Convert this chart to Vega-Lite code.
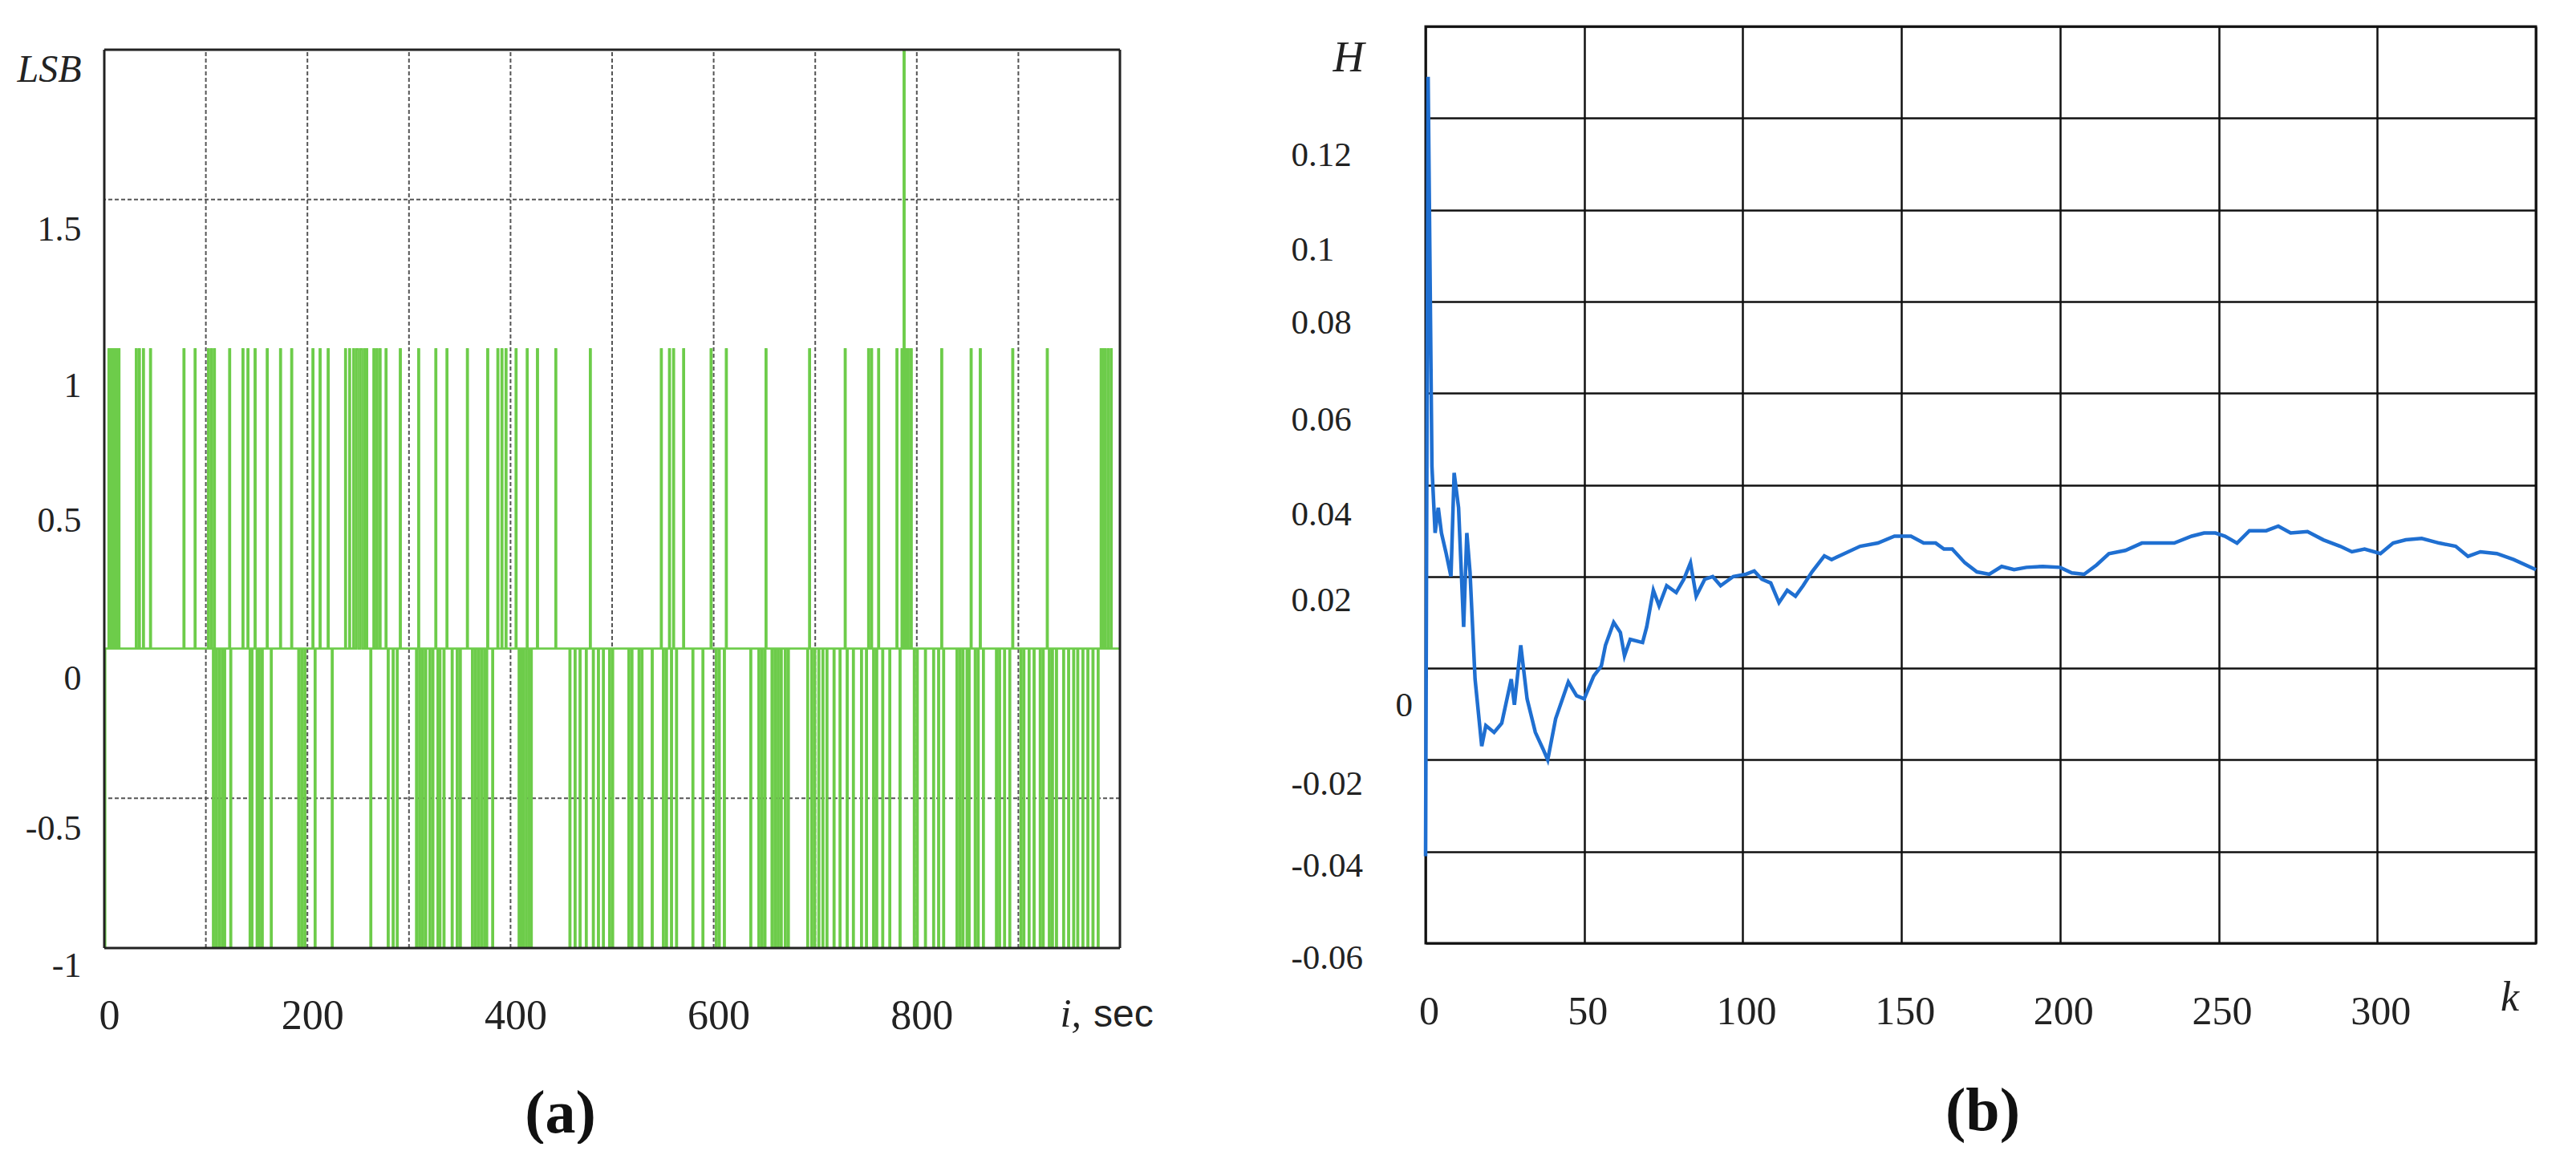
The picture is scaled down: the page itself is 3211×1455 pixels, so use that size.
{
  "$schema": "https://vega.github.io/schema/vega-lite/v6.json",
  "background": "white",
  "padding": {"left": 20, "top": 31, "right": 0, "bottom": 0},
  "bounds": "flush",
  "spacing": 381,
  "config": {
    "view": {"stroke": null},
    "axis": {
      "ticks": false,
      "tickSize": 0,
      "domain": false,
      "grid": false,
      "labelFont": "Liberation Serif",
      "labelColor": "#222",
      "labelFlush": false,
      "labelOverlap": false,
      "labelBound": false,
      "titleFont": "Liberation Serif",
      "titleColor": "#111"
    }
  },
  "datasets": {
    "lsb": [
      {"t":0,"v":-1},{"t":1,"v":0},
      {"t":4,"v":1},{"t":5,"v":0},{"t":6,"v":1},{"t":7,"v":0},{"t":8,"v":1},{"t":9,"v":0},{"t":10,"v":1},{"t":11,"v":0},{"t":12,"v":1},{"t":13,"v":0},{"t":14,"v":1},{"t":15,"v":0},
      {"t":31,"v":1},{"t":32,"v":0},{"t":34,"v":1},{"t":35,"v":0},{"t":38,"v":1},{"t":39,"v":0},{"t":45,"v":1},{"t":46,"v":0},
      {"t":78,"v":1},{"t":79,"v":0},{"t":89,"v":1},{"t":90,"v":0},{"t":102,"v":1},{"t":103,"v":0},{"t":105,"v":1},{"t":106,"v":0},
      {"t":107,"v":-1},{"t":108,"v":1},{"t":109,"v":0},{"t":110,"v":-1},{"t":111,"v":0},{"t":113,"v":-1},{"t":114,"v":0},
      {"t":116,"v":-1},{"t":117,"v":0},{"t":118,"v":-1},{"t":119,"v":0},{"t":123,"v":1},{"t":124,"v":-1},{"t":125,"v":0},
      {"t":136,"v":1},{"t":137,"v":0},{"t":141,"v":1},{"t":142,"v":0},{"t":143,"v":-1},{"t":144,"v":0},{"t":145,"v":-1},{"t":146,"v":0},
      {"t":148,"v":1},{"t":149,"v":0},{"t":150,"v":-1},{"t":151,"v":0},{"t":152,"v":-1},{"t":153,"v":0},{"t":155,"v":-1},{"t":156,"v":0},
      {"t":160,"v":1},{"t":161,"v":0},{"t":164,"v":-1},{"t":165,"v":0},{"t":173,"v":1},{"t":174,"v":0},{"t":184,"v":1},{"t":185,"v":0},
      {"t":191,"v":-1},{"t":192,"v":0},{"t":194,"v":-1},{"t":195,"v":0},{"t":197,"v":-1},{"t":198,"v":0},
      {"t":205,"v":1},{"t":206,"v":0},{"t":207,"v":-1},{"t":208,"v":0},{"t":212,"v":1},{"t":213,"v":0},{"t":220,"v":1},{"t":221,"v":0},
      {"t":224,"v":-1},{"t":225,"v":0},{"t":237,"v":1},{"t":238,"v":0},{"t":241,"v":1},{"t":242,"v":0},{"t":245,"v":1},{"t":246,"v":0},
      {"t":248,"v":1},{"t":249,"v":1},{"t":250,"v":0},{"t":252,"v":1},{"t":253,"v":1},{"t":254,"v":0},{"t":256,"v":1},{"t":257,"v":0},
      {"t":258,"v":1},{"t":259,"v":0},{"t":262,"v":-1},{"t":263,"v":0},{"t":265,"v":1},{"t":266,"v":0},{"t":268,"v":1},{"t":269,"v":0},
      {"t":271,"v":1},{"t":272,"v":0},{"t":277,"v":1},{"t":278,"v":0},{"t":279,"v":-1},{"t":280,"v":0},{"t":284,"v":-1},{"t":285,"v":0},
      {"t":288,"v":-1},{"t":289,"v":0},{"t":291,"v":1},{"t":292,"v":0},{"t":307,"v":-1},{"t":308,"v":0},{"t":309,"v":1},{"t":310,"v":-1},{"t":311,"v":0},
      {"t":313,"v":-1},{"t":314,"v":0},{"t":316,"v":-1},{"t":317,"v":0},{"t":320,"v":-1},{"t":321,"v":0},{"t":323,"v":-1},{"t":324,"v":0},
      {"t":326,"v":1},{"t":327,"v":0},{"t":328,"v":-1},{"t":329,"v":0},{"t":330,"v":-1},{"t":331,"v":0},{"t":334,"v":-1},{"t":335,"v":0},
      {"t":337,"v":1},{"t":338,"v":0},{"t":342,"v":-1},{"t":343,"v":0},{"t":347,"v":-1},{"t":348,"v":0},{"t":350,"v":-1},{"t":351,"v":0},
      {"t":357,"v":1},{"t":358,"v":0},{"t":362,"v":-1},{"t":363,"v":0},{"t":365,"v":-1},{"t":366,"v":0},{"t":368,"v":-1},{"t":369,"v":0},
      {"t":371,"v":-1},{"t":372,"v":0},{"t":374,"v":-1},{"t":375,"v":0},{"t":376,"v":-1},{"t":377,"v":1},{"t":378,"v":0},
      {"t":382,"v":-1},{"t":383,"v":0},{"t":387,"v":1},{"t":388,"v":0},{"t":391,"v":1},{"t":392,"v":0},{"t":395,"v":1},{"t":396,"v":0},
      {"t":405,"v":1},{"t":406,"v":0},{"t":408,"v":-1},{"t":409,"v":0},{"t":410,"v":-1},{"t":411,"v":0},{"t":412,"v":-1},{"t":413,"v":0},
      {"t":415,"v":-1},{"t":416,"v":1},{"t":417,"v":0},{"t":418,"v":-1},{"t":419,"v":0},{"t":420,"v":-1},{"t":421,"v":0},
      {"t":426,"v":1},{"t":427,"v":0},{"t":444,"v":1},{"t":445,"v":0},{"t":458,"v":-1},{"t":459,"v":0},{"t":463,"v":-1},{"t":464,"v":0},
      {"t":468,"v":-1},{"t":469,"v":0},{"t":474,"v":-1},{"t":475,"v":0},{"t":478,"v":1},{"t":479,"v":0},{"t":481,"v":-1},{"t":482,"v":0},
      {"t":486,"v":-1},{"t":487,"v":0},{"t":491,"v":-1},{"t":492,"v":0},{"t":497,"v":-1},{"t":498,"v":0},{"t":500,"v":-1},{"t":501,"v":0},
      {"t":516,"v":-1},{"t":517,"v":0},{"t":519,"v":-1},{"t":520,"v":0},{"t":526,"v":-1},{"t":527,"v":0},{"t":529,"v":-1},{"t":530,"v":0},
      {"t":539,"v":-1},{"t":540,"v":0},{"t":548,"v":1},{"t":549,"v":0},{"t":550,"v":-1},{"t":551,"v":0},{"t":553,"v":-1},{"t":554,"v":0},
      {"t":556,"v":1},{"t":557,"v":0},{"t":558,"v":-1},{"t":559,"v":0},{"t":560,"v":1},{"t":561,"v":0},{"t":563,"v":-1},{"t":564,"v":0},
      {"t":570,"v":1},{"t":571,"v":0},{"t":579,"v":-1},{"t":580,"v":0},{"t":589,"v":-1},{"t":590,"v":0},{"t":597,"v":1},{"t":598,"v":0},
      {"t":602,"v":-1},{"t":603,"v":0},{"t":605,"v":-1},{"t":606,"v":0},{"t":610,"v":-1},{"t":611,"v":0},{"t":612,"v":1},{"t":613,"v":0},
      {"t":636,"v":-1},{"t":637,"v":0},{"t":644,"v":-1},{"t":645,"v":0},{"t":647,"v":-1},{"t":648,"v":0},{"t":650,"v":-1},{"t":651,"v":1},{"t":652,"v":0},
      {"t":657,"v":-1},{"t":658,"v":0},{"t":660,"v":-1},{"t":661,"v":0},{"t":663,"v":-1},{"t":664,"v":0},{"t":666,"v":-1},{"t":667,"v":0},
      {"t":670,"v":-1},{"t":671,"v":0},{"t":673,"v":-1},{"t":674,"v":0},{"t":692,"v":-1},{"t":693,"v":0},{"t":694,"v":1},{"t":695,"v":0},
      {"t":696,"v":-1},{"t":697,"v":0},{"t":699,"v":-1},{"t":700,"v":0},{"t":703,"v":-1},{"t":704,"v":0},{"t":707,"v":-1},{"t":708,"v":0},
      {"t":711,"v":-1},{"t":712,"v":0},{"t":718,"v":-1},{"t":719,"v":0},{"t":724,"v":-1},{"t":725,"v":0},{"t":729,"v":1},{"t":730,"v":0},
      {"t":731,"v":-1},{"t":732,"v":0},{"t":737,"v":-1},{"t":738,"v":0},{"t":745,"v":-1},{"t":746,"v":0},{"t":750,"v":-1},{"t":751,"v":0},
      {"t":752,"v":1},{"t":753,"v":0},{"t":755,"v":1},{"t":756,"v":0},{"t":757,"v":-1},{"t":758,"v":0},{"t":760,"v":-1},{"t":761,"v":0},
      {"t":762,"v":1},{"t":763,"v":0},{"t":766,"v":-1},{"t":767,"v":0},{"t":773,"v":-1},{"t":774,"v":0},{"t":780,"v":1},{"t":781,"v":0},
      {"t":783,"v":-1},{"t":784,"v":0},{"t":785,"v":1},{"t":786,"v":0},{"t":787,"v":2},{"t":788,"v":0},{"t":789,"v":1},{"t":790,"v":0},
      {"t":791,"v":1},{"t":792,"v":0},{"t":794,"v":1},{"t":795,"v":0},{"t":797,"v":-1},{"t":798,"v":0},{"t":800,"v":-1},{"t":801,"v":0},
      {"t":808,"v":-1},{"t":809,"v":0},{"t":816,"v":-1},{"t":817,"v":0},{"t":821,"v":-1},{"t":822,"v":0},{"t":824,"v":1},{"t":825,"v":0},
      {"t":826,"v":-1},{"t":827,"v":0},{"t":839,"v":-1},{"t":840,"v":0},{"t":842,"v":-1},{"t":843,"v":0},{"t":845,"v":-1},{"t":846,"v":0},
      {"t":849,"v":-1},{"t":850,"v":0},{"t":851,"v":-1},{"t":852,"v":0},{"t":853,"v":1},{"t":854,"v":0},{"t":857,"v":-1},{"t":858,"v":0},
      {"t":860,"v":-1},{"t":861,"v":0},{"t":862,"v":1},{"t":863,"v":0},{"t":865,"v":-1},{"t":866,"v":0},{"t":878,"v":-1},{"t":879,"v":0},
      {"t":881,"v":-1},{"t":882,"v":0},{"t":886,"v":-1},{"t":887,"v":0},{"t":891,"v":-1},{"t":892,"v":0},{"t":894,"v":1},{"t":895,"v":0},
      {"t":902,"v":-1},{"t":903,"v":0},{"t":905,"v":-1},{"t":906,"v":0},{"t":910,"v":-1},{"t":911,"v":0},{"t":915,"v":-1},{"t":916,"v":0},
      {"t":921,"v":-1},{"t":922,"v":0},{"t":924,"v":-1},{"t":925,"v":0},{"t":928,"v":1},{"t":929,"v":0},{"t":930,"v":-1},{"t":931,"v":0},
      {"t":933,"v":-1},{"t":934,"v":0},{"t":937,"v":-1},{"t":938,"v":0},{"t":944,"v":-1},{"t":945,"v":0},{"t":949,"v":-1},{"t":950,"v":0},
      {"t":954,"v":-1},{"t":955,"v":0},{"t":958,"v":-1},{"t":959,"v":0},{"t":963,"v":-1},{"t":964,"v":0},{"t":968,"v":-1},{"t":969,"v":0},
      {"t":973,"v":-1},{"t":974,"v":0},{"t":978,"v":-1},{"t":979,"v":0},{"t":981,"v":1},{"t":982,"v":0},{"t":983,"v":1},{"t":984,"v":0},
      {"t":985,"v":1},{"t":986,"v":0},{"t":988,"v":1},{"t":989,"v":0},{"t":991,"v":1},{"t":992,"v":0},{"t":1000,"v":0}
    ],
    "h": [
      {"k":0,"h":-0.041},{"k":0.8,"h":0.129},{"k":2,"h":0.044},{"k":3,"h":0.0295},{"k":4,"h":0.035},{"k":5,"h":0.0295},
      {"k":6.5,"h":0.025},{"k":8,"h":0.02},{"k":9,"h":0.0426},{"k":10.4,"h":0.035},{"k":12,"h":0.009},{"k":13,"h":0.0295},
      {"k":14,"h":0.021},{"k":15.6,"h":-0.0024},{"k":17.7,"h":-0.017},{"k":19,"h":-0.0125},{"k":21.6,"h":-0.014},{"k":24,"h":-0.012},
      {"k":27,"h":-0.0024},{"k":28,"h":-0.008},{"k":30,"h":0.005},{"k":32,"h":-0.0067},{"k":34.6,"h":-0.014},{"k":37,"h":-0.0176},
      {"k":38.5,"h":-0.02},{"k":41,"h":-0.011},{"k":45,"h":-0.003},{"k":47.6,"h":-0.006},{"k":50,"h":-0.0067},{"k":53,"h":-0.0017},
      {"k":55.4,"h":0.0005},{"k":56.7,"h":0.005},{"k":59.3,"h":0.01},{"k":61.4,"h":0.0078},{"k":62.7,"h":0.0027},{"k":64.5,"h":0.0063},
      {"k":68.4,"h":0.0056},{"k":69.7,"h":0.009},{"k":71.8,"h":0.017},{"k":73.6,"h":0.0136},{"k":76,"h":0.018},{"k":79,"h":0.0165},
      {"k":81.4,"h":0.0194},{"k":83.5,"h":0.023},{"k":85.3,"h":0.0157},{"k":88,"h":0.0194},{"k":90.5,"h":0.02},{"k":93,"h":0.018},
      {"k":97,"h":0.02},{"k":101,"h":0.0205},{"k":103.6,"h":0.0212},{"k":106,"h":0.0194},{"k":108.8,"h":0.0186},{"k":111.4,"h":0.0143},
      {"k":114,"h":0.017},{"k":116.6,"h":0.0157},{"k":119,"h":0.018},{"k":121.8,"h":0.021},{"k":125.7,"h":0.0245},{"k":128,"h":0.0237},
      {"k":132,"h":0.025},{"k":137,"h":0.0266},{"k":142.6,"h":0.0273},{"k":147.8,"h":0.0288},{"k":153,"h":0.0288},{"k":157,"h":0.0273},
      {"k":160.8,"h":0.0273},{"k":163.4,"h":0.026},{"k":166,"h":0.026},{"k":170,"h":0.023},{"k":173.8,"h":0.021},{"k":177.7,"h":0.0205},
      {"k":181.6,"h":0.0222},{"k":185.5,"h":0.0215},{"k":189.4,"h":0.022},{"k":194.6,"h":0.0222},{"k":200,"h":0.022},{"k":203.7,"h":0.0208},
      {"k":207.6,"h":0.0205},{"k":211.5,"h":0.0225},{"k":215.4,"h":0.025},{"k":220.6,"h":0.0257},{"k":225.8,"h":0.0273},{"k":231,"h":0.0273},
      {"k":236,"h":0.0273},{"k":241.5,"h":0.0288},{"k":245.4,"h":0.0295},{"k":249,"h":0.0295},{"k":252,"h":0.0288},{"k":255.8,"h":0.0273},
      {"k":259.7,"h":0.03},{"k":265,"h":0.03},{"k":268.8,"h":0.031},{"k":272.7,"h":0.0295},{"k":278,"h":0.0298},{"k":283,"h":0.028},
      {"k":288.3,"h":0.0266},{"k":292,"h":0.0254},{"k":296,"h":0.026},{"k":301,"h":0.025},{"k":305,"h":0.0273},{"k":309,"h":0.028},
      {"k":314,"h":0.0283},{"k":319.5,"h":0.0273},{"k":324.7,"h":0.0266},{"k":328.6,"h":0.0244},{"k":332.5,"h":0.0254},{"k":337.7,"h":0.025},
      {"k":343,"h":0.0237},{"k":350,"h":0.0215}
    ],
    "vgrid": [{"t":100},{"t":200},{"t":300},{"t":400},{"t":500},{"t":600},{"t":700},{"t":800},{"t":900}],
    "hgrid": [{"v":1.5},{"v":-0.5}],
    "frameV": [{"t":0},{"t":1000}],
    "frameH": [{"v":2},{"v":-1}]
  },
  "hconcat": [
    {
      "width": 1266,
      "height": 1149,
      "layer": [
        {
          "data": {"name": "lsb"},
          "mark": {"type": "line", "interpolate": "step-after", "color": "#6dcc4a", "strokeWidth": 2.2},
          "encoding": {
            "x": {
              "field": "t",
              "type": "quantitative",
              "scale": {"domain": [0, 1000], "nice": false, "zero": false},
              "axis": {
                "values": [0, 200, 400, 600, 800],
                "labelFontSize": 52,
                "labelBaseline": "alphabetic",
                "labelPadding": 100,
                "labelOffset": 6,
                "title": "(a)",
                "titleFontSize": 76,
                "titleFontWeight": "bold",
                "titleAlign": "center",
                "titleBaseline": "alphabetic",
                "titleX": 568,
                "titleY": 229
              }
            },
            "y": {
              "field": "v",
              "type": "quantitative",
              "scale": {"domain": [-1, 2.0777], "nice": false, "zero": false},
              "axis": {
                "values": [-1, -0.5, 0, 0.5, 1, 1.5, 2],
                "labelExpr": "datum.value == 2 ? 'LSB' : '' + datum.value",
                "labelAlign": "right",
                "labelBaseline": "middle",
                "labelPadding": 29,
                "labelFontSize": {"condition": {"test": "datum.value == 2", "value": 48}, "value": 44},
                "labelFontStyle": {"condition": {"test": "datum.value == 2", "value": "italic"}, "value": "normal"},
                "labelOffset": {
                  "condition": [
                    {"test": "datum.value == 2", "value": 25},
                    {"test": "datum.value == 1", "value": 46},
                    {"test": "datum.value == 0.5", "value": 27},
                    {"test": "datum.value == -1", "value": 22}
                  ],
                  "value": 38
                },
                "title": null
              }
            }
          }
        },
        {
          "data": {"name": "vgrid"},
          "mark": {"type": "rule", "color": "#555", "strokeWidth": 2, "strokeDash": [5, 3]},
          "encoding": {
            "x": {"field": "t", "type": "quantitative", "scale": {"domain": [0, 1000], "nice": false, "zero": false}},
            "y": {"datum": -1, "type": "quantitative", "scale": {"domain": [-1, 2.0777], "nice": false, "zero": false}},
            "y2": {"datum": 2}
          }
        },
        {
          "data": {"name": "hgrid"},
          "mark": {"type": "rule", "color": "#555", "strokeWidth": 2, "strokeDash": [5, 3]},
          "encoding": {
            "y": {"field": "v", "type": "quantitative", "scale": {"domain": [-1, 2.0777], "nice": false, "zero": false}}
          }
        },
        {
          "data": {"name": "lsb"},
          "mark": {"type": "line", "interpolate": "step-after", "color": "#6dcc4a", "strokeWidth": 2.2},
          "encoding": {
            "x": {"field": "t", "type": "quantitative", "scale": {"domain": [0, 1000], "nice": false, "zero": false}},
            "y": {"field": "v", "type": "quantitative", "scale": {"domain": [-1, 2.0777], "nice": false, "zero": false}}
          }
        },
        {
          "data": {"name": "frameV"},
          "mark": {"type": "rule", "color": "#222", "strokeWidth": 3},
          "encoding": {
            "x": {"field": "t", "type": "quantitative", "scale": {"domain": [0, 1000], "nice": false, "zero": false}},
            "y": {"datum": -1, "type": "quantitative", "scale": {"domain": [-1, 2.0777], "nice": false, "zero": false}},
            "y2": {"datum": 2}
          }
        },
        {
          "data": {"name": "frameH"},
          "mark": {"type": "rule", "color": "#222", "strokeWidth": 3},
          "encoding": {
            "y": {"field": "v", "type": "quantitative", "scale": {"domain": [-1, 2.0777], "nice": false, "zero": false}}
          }
        },
        {
          "data": {"values": [{}]},
          "mark": {"type": "text", "text": "i,", "font": "Liberation Serif", "fontStyle": "italic", "fontSize": 50, "align": "right", "baseline": "alphabetic", "dx": -48, "dy": 98, "color": "#222"},
          "encoding": {
            "x": {"datum": 1000, "type": "quantitative", "scale": {"domain": [0, 1000], "nice": false, "zero": false}},
            "y": {"datum": -1, "type": "quantitative", "scale": {"domain": [-1, 2.0777], "nice": false, "zero": false}}
          }
        },
        {
          "data": {"values": [{}]},
          "mark": {"type": "text", "text": "sec", "font": "Liberation Sans", "fontSize": 48, "align": "left", "baseline": "alphabetic", "dx": -33, "dy": 98, "color": "#222"},
          "encoding": {
            "x": {"datum": 1000, "type": "quantitative", "scale": {"domain": [0, 1000], "nice": false, "zero": false}},
            "y": {"datum": -1, "type": "quantitative", "scale": {"domain": [-1, 2.0777], "nice": false, "zero": false}}
          }
        }
      ]
    },
    {
      "width": 1384,
      "height": 1143,
      "view": {"stroke": "#1a1a1a", "strokeWidth": 3},
      "data": {"name": "h"},
      "mark": {"type": "line", "color": "#1f6fd1", "strokeWidth": 4.5},
      "encoding": {
        "x": {
          "field": "k",
          "type": "quantitative",
          "scale": {"domain": [0, 350], "nice": false, "zero": false},
          "axis": {
            "values": [0, 50, 100, 150, 200, 250, 300, 350],
            "grid": true,
            "gridColor": "#111",
            "gridWidth": 2.5,
            "gridOpacity": 1,
            "labelExpr": "datum.value == 350 ? 'k' : '' + datum.value",
            "labelFontSize": {"condition": {"test": "datum.value == 350", "value": 52}, "value": 50},
            "labelFontStyle": {"condition": {"test": "datum.value == 350", "value": "italic"}, "value": "normal"},
            "labelBaseline": "alphabetic",
            "labelPadding": {"condition": {"test": "datum.value == 350", "value": 83}, "value": 100},
            "labelOffset": {"condition": {"test": "datum.value == 350", "value": -33}, "value": 4},
            "title": "(b)",
            "titleFontSize": 76,
            "titleFontWeight": "bold",
            "titleAlign": "center",
            "titleBaseline": "alphabetic",
            "titleX": 694,
            "titleY": 232
          }
        },
        "y": {
          "field": "h",
          "type": "quantitative",
          "scale": {"domain": [-0.06, 0.14], "nice": false, "zero": false},
          "axis": {
            "values": [-0.06, -0.04, -0.02, 0, 0.02, 0.04, 0.06, 0.08, 0.1, 0.12, 0.14],
            "grid": true,
            "gridColor": "#111",
            "gridWidth": 2.5,
            "gridOpacity": 1,
            "labelExpr": "datum.value > 0.13 ? 'H' : '' + datum.value",
            "labelAlign": "left",
            "labelBaseline": "middle",
            "labelFontSize": {"condition": {"test": "datum.value > 0.13", "value": 54}, "value": 43},
            "labelFontStyle": {"condition": {"test": "datum.value > 0.13", "value": "italic"}, "value": "normal"},
            "labelPadding": {
              "condition": [
                {"test": "datum.value > 0.13", "value": 116},
                {"test": "datum.value == 0", "value": 38}
              ],
              "value": 168
            },
            "labelOffset": {
              "condition": [
                {"test": "datum.value > 0.13", "value": 39},
                {"test": "abs(datum.value - 0.12) < 0.001", "value": 46},
                {"test": "abs(datum.value - 0.1) < 0.001", "value": 50},
                {"test": "abs(datum.value - 0.08) < 0.001", "value": 27},
                {"test": "abs(datum.value - 0.06) < 0.001", "value": 33},
                {"test": "abs(datum.value - 0.04) < 0.001", "value": 37},
                {"test": "datum.value == 0", "value": 46},
                {"test": "datum.value < -0.03", "value": 18}
              ],
              "value": 30
            },
            "title": null
          }
        }
      }
    }
  ]
}
